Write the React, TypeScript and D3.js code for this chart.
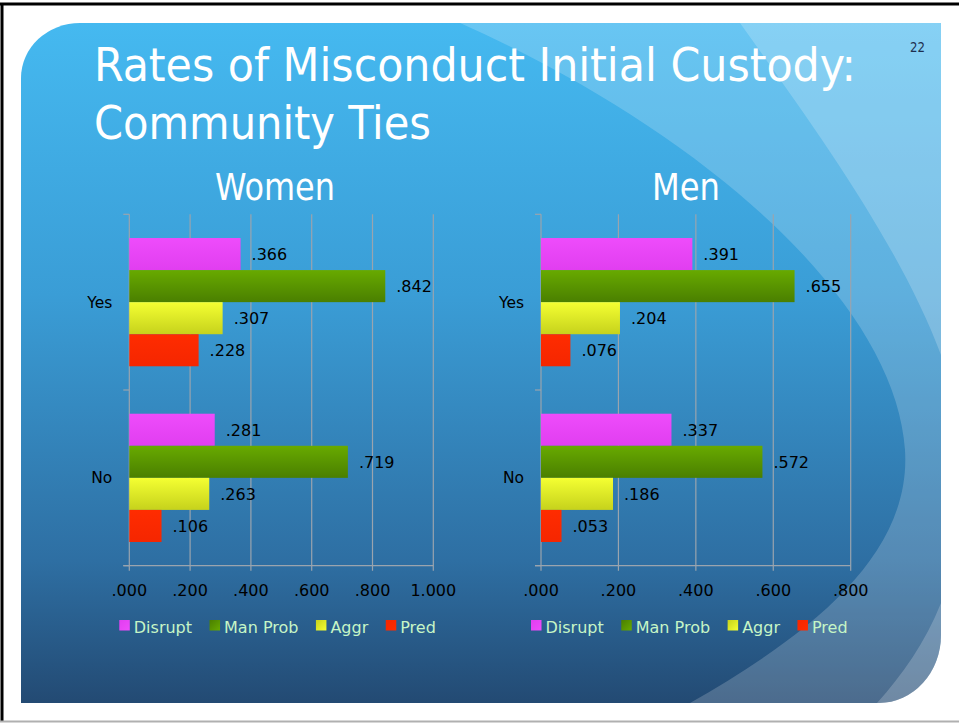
import React from 'react';
import * as d3 from 'd3';

// ---- data ----
const categories = ['Yes', 'No'];
const seriesNames = ['Disrupt', 'Man Prob', 'Aggr', 'Pred'];
const womenYes = [0.366, 0.842, 0.307, 0.228];
const womenNo = [0.281, 0.719, 0.263, 0.106];
const menYes = [0.391, 0.655, 0.204, 0.076];
const menNo = [0.337, 0.572, 0.186, 0.053];
const womenTicks = [0, 0.2, 0.4, 0.6, 0.8, 1.0];
const menTicks = [0, 0.2, 0.4, 0.6, 0.8];
const titleLine1 = 'Rates of Misconduct Initial Custody:';
const titleLine2 = 'Community Ties';
const slideNumber = '22';

const seriesColors = [
  ['#ee4cfb', '#e13ef0'],
  ['#68aa00', '#4a7f00'],
  ['#f4ff32', '#c6d21c'],
  ['#ff2c00', '#f52600'],
];

const fmt = (v: number) => d3.format('.3f')(v).replace(/^0\./, '.');

const FONT = "'DejaVu Sans', Verdana, sans-serif";
const TITLE_FONT = "'DejaVu Sans Condensed', 'DejaVu Sans', sans-serif";

function measure(text: string, font: string) {
  try {
    const c = document.createElement('canvas');
    const ctx = c.getContext('2d');
    if (ctx) {
      ctx.font = font;
      return ctx.measureText(text).width;
    }
  } catch (e) {}
  return text.length * 8.5;
}

type ChartProps = {
  id: string;
  title: string;
  titleX: number;
  titleLen: number;
  values: number[][];
  ticks: number[];
  domainMax: number;
  x0: number;
  x1: number;
  legendX: number;
};

function Chart(p: ChartProps) {
  const top = 214.3;
  const bottom = 565.7;
  const x = d3.scaleLinear().domain([0, p.domainMax]).range([p.x0, p.x1]);
  const y = d3.scaleBand().domain(categories).range([top, bottom]).padding(0);
  const inner = d3
    .scaleBand()
    .domain(seriesNames)
    .range([0, y.bandwidth()])
    .paddingInner(0)
    .paddingOuter(0.74);
  const gridColor = '#9aa4ae';

  // legend layout
  const legendItems: { name: string; x: number; i: number }[] = [];
  let lx = p.legendX;
  seriesNames.forEach((name, i) => {
    legendItems.push({ name, x: lx, i });
    lx += 14.5 + measure(name, `16px ${FONT}`) + 17.5;
  });

  return (
    <g>
      <text
        x={p.titleX}
        y={200}
        fill="#ffffff"
        fontFamily={TITLE_FONT}
        fontSize={37}
        textAnchor="middle"
        textLength={p.titleLen}
        lengthAdjust="spacingAndGlyphs"
      >
        {p.title}
      </text>
      {/* gridlines */}
      {p.ticks.map((t) => (
        <line
          key={'g' + t}
          x1={x(t)}
          x2={x(t)}
          y1={top}
          y2={bottom + 5}
          stroke={gridColor}
          strokeWidth={1.2}
        />
      ))}
      {/* y axis ticks */}
      {[top, top + y.step(), bottom].map((yy, i) => (
        <line key={'yt' + i} x1={p.x0 - 6} x2={p.x0} y1={yy} y2={yy} stroke={gridColor} strokeWidth={1.2} />
      ))}
      <line x1={p.x0 - 6} x2={x(p.domainMax)} y1={bottom} y2={bottom} stroke={gridColor} strokeWidth={1.2} />
      {/* bars */}
      {categories.map((cat, ci) => (
        <g key={cat}>
          {seriesNames.map((s, si) => {
            const v = p.values[ci][si];
            const by = (y(cat) as number) + (inner(s) as number);
            const bh = inner.bandwidth();
            return (
              <g key={s}>
                <rect
                  x={x(0)}
                  y={by}
                  width={x(v) - x(0)}
                  height={bh}
                  fill={`url(#grad${si})`}
                />
                <text
                  x={x(v) + 11}
                  y={by + bh / 2}
                  dy="0.36em"
                  fontFamily={FONT}
                  fontSize={16}
                  fill="#000"
                >
                  {fmt(v)}
                </text>
              </g>
            );
          })}
          <text
            x={p.x0 - 17}
            y={(y(cat) as number) + y.bandwidth() / 2}
            dy="0.36em"
            textAnchor="end"
            fontFamily={FONT}
            fontSize={15.5}
            fill="#000"
          >
            {cat}
          </text>
        </g>
      ))}
      {/* x tick labels */}
      {p.ticks.map((t) => (
        <text
          key={'xl' + t}
          x={x(t)}
          y={596}
          textAnchor="middle"
          fontFamily={FONT}
          fontSize={16}
          fill="#000"
        >
          {fmt(t)}
        </text>
      ))}
      {/* legend */}
      {legendItems.map((it) => (
        <g key={it.name}>
          <rect x={it.x} y={620} width={10.5} height={10.5} fill={`url(#lgrad${it.i})`} />
          <text x={it.x + 14.5} y={632.5} fontFamily={FONT} fontSize={16} fill="#c6f5c6">
            {it.name}
          </text>
        </g>
      ))}
    </g>
  );
}

export default function App() {
  const panel =
    'M21,78 A59,55 0 0 1 80,23 L941,23 L941,635 A62,68 0 0 1 879,703 L21,703 Z';
  return (
    <svg
      width={959}
      height={723}
      style={{ position: 'absolute', left: 0, top: 0, display: 'block' }}
    >
      <defs>
        <linearGradient id="bg" x1="0" y1="0" x2="0" y2="1">
          <stop offset="0" stopColor="#45b9f0" />
          <stop offset="0.4" stopColor="#3a9dd6" />
          <stop offset="0.79" stopColor="#2e6fa3" />
          <stop offset="1" stopColor="#234a73" />
        </linearGradient>
        <clipPath id="panelClip">
          <path d={panel} />
        </clipPath>
        {seriesColors.map((c, i) => (
          <linearGradient key={i} id={`grad${i}`} x1="0" y1="0" x2="0" y2="1">
            <stop offset="0" stopColor={c[0]} />
            <stop offset="1" stopColor={c[1]} />
          </linearGradient>
        ))}
        {seriesColors.map((c, i) => (
          <linearGradient key={'l' + i} id={`lgrad${i}`} x1="0" y1="0" x2="1" y2="1">
            <stop offset="0" stopColor={c[1]} />
            <stop offset="1" stopColor={c[0]} />
          </linearGradient>
        ))}
      </defs>
      <rect x={0} y={0} width={959} height={723} fill="#ffffff" />
      <path d={panel} fill="url(#bg)" />
      <g clipPath="url(#panelClip)">
        <path
          d="M460,23 C700,130 895,300 905,450 C912,560 800,640 690,703 L960,703 L960,23 Z"
          fill="#ffffff"
          fillOpacity={0.19}
        />
        <path
          d="M740,23 C830,150 965,330 965,470 C965,580 925,650 877,703 L960,703 L960,23 Z"
          fill="#ffffff"
          fillOpacity={0.2}
        />
      </g>
      {/* screenshot frame */}
      <line x1={0} x2={959} y1={4} y2={4} stroke="#000" strokeWidth={3} />
      <line x1={2} x2={2} y1={3} y2={722} stroke="#000" strokeWidth={3} />
      <line x1={0} x2={959} y1={721.5} y2={721.5} stroke="#b0b0b0" strokeWidth={2} />

      {/* titles */}
      <text
        x={94}
        y={81}
        fill="#ffffff"
        fontFamily={TITLE_FONT}
        fontSize={47}
        textLength={762}
        lengthAdjust="spacingAndGlyphs"
      >
        {titleLine1}
      </text>
      <text
        x={94}
        y={138.5}
        fill="#ffffff"
        fontFamily={TITLE_FONT}
        fontSize={47}
        textLength={337}
        lengthAdjust="spacingAndGlyphs"
      >
        {titleLine2}
      </text>
      <text
        x={910}
        y={51.5}
        fill="#1e2f4f"
        fontFamily={TITLE_FONT}
        fontSize={14}
        textLength={15}
        lengthAdjust="spacingAndGlyphs"
      >
        {slideNumber}
      </text>

      <Chart
        id="women"
        title="Women"
        titleX={275}
        titleLen={120}
        values={[womenYes, womenNo]}
        ticks={womenTicks}
        domainMax={1.0}
        x0={129.3}
        x1={433.3}
        legendX={119.3}
      />
      <Chart
        id="men"
        title="Men"
        titleX={686}
        titleLen={68}
        values={[menYes, menNo]}
        ticks={menTicks}
        domainMax={0.8}
        x0={541}
        x1={850.7}
        legendX={531}
      />
    </svg>
  );
}
